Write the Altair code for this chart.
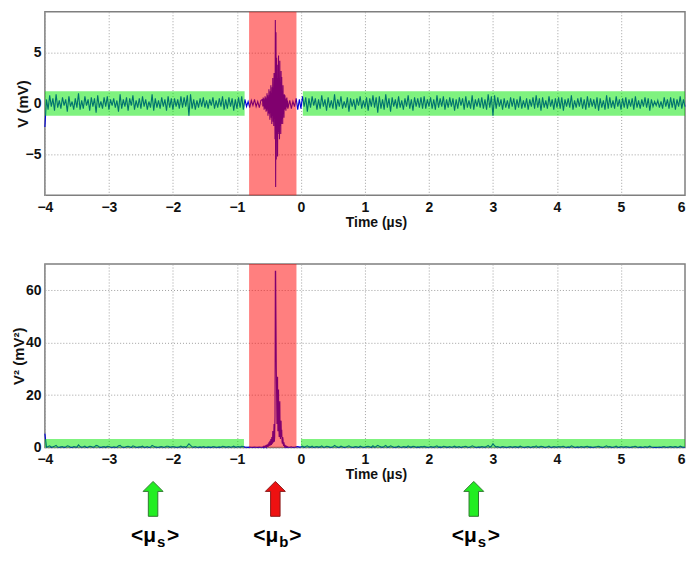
import altair as alt
import numpy as np
import pandas as pd

FONT = "Liberation Sans"

SEG1_START, SEG1_STEP = -4.0, 0.025
BURST_START, BURST_STEP = -0.6, 0.005
SEG3_START, SEG3_STEP = -0.2, 0.025

v_seg1 = [-23, 4, -6, 8, -3, 5, -7, 9, -4, 3,
          -5, 6, -2, 4, -8, 7, -3, 2, -6, 5,
          -4, 10, -6, 3, -5, 7, -2, 4, -7, 6,
          -3, 5, -9, 8, -4, 2, -5, 6, -3, 7,
          -6, 4, -2, 5, -4, 3, -8, 9, -5, 4,
          -3, 6, -7, 5, -2, 8, -6, 3, -4, 5,
          -5, 7, -3, 4, -6, 2, -4, 9, -7, 5,
          -4, 3, -5, 6, -3, 4, -7, 7, -4, 5,
          -6, 5, -3, 4, -5, 7, -4, 6, -3, 8,
          -12, 9, -5, 4, -6, 3, -4, 5, -3, 6,
          -4, 3, -5, 4, -2, 6, -5, 3, -4, 5,
          -3, 7, -6, 4, -5, 6, -3, 5, -7, 4,
          -5, 6, -4, 7, -6, 4, -3, 2, -4, 3,
          -2, 4, -3, 2, -4, 3]

v_burst = [4, -3, 6, -2, 5, -6, 3, -4, 7, -5,
           6, -8, 4, -7, 10, -5, 8, -12, 6, -9,
           14, -10, 8, -16, 12, -9, 18, -14, 10, -20,
           16, -12, 25, -18, 14, -22, 30, -15, 20, -35,
           82, -82, 70, -55, 45, -30, 38, -52, 25, -30,
           47, -28, 20, -35, 42, -22, 18, -30, 32, -20,
           26, -15, 12, -20, 18, -10, 8, -14, 9, -6,
           8, -5, 4, -7, 5, -3, 6, -4, 3, -5]

v_seg3 = [-4, 3, -5, 2, -3, 5, -6, 4, -5, 7,
          -3, 6, -8, 5, -4, 7, -2, 5, -6, 4,
          -5, 8, -3, 4, -7, 6, -4, 3, -5, 9,
          -6, 4, -3, 7, -5, 2, -4, 6, -8, 5,
          -3, 4, -6, 5, -2, 7, -5, 3, -4, 6,
          -7, 5, -3, 8, -4, 6, -9, 7, -5, 4,
          -6, 9, -4, 5, -8, 6, -3, 4, -5, 7,
          -4, 3, -6, 5, -3, 8, -5, 4, -7, 6,
          -3, 5, -4, 6, -5, 7, -5, 4, -3, 6,
          -5, 4, -6, 8, -4, 5, -3, 7, -6, 4,
          -4, 6, -3, 5, -7, 4, -5, 6, -2, 5,
          -6, 7, -4, 3, -5, 8, -6, 4, -3, 5,
          -4, 6, -5, 4, -6, 9, -4, 7, -12, 8,
          -5, 6, -3, 4, -6, 5, -4, 3, -5, 6,
          -3, 5, -6, 4, -4, 7, -5, 3, -4, 5,
          -6, 4, -3, 6, -5, 8, -4, 5, -7, 6,
          -4, 3, -5, 7, -3, 4, -6, 5, -4, 6,
          -5, 6, -7, 4, -3, 5, -4, 8, -6, 3,
          -4, 5, -3, 6, -5, 4, -6, 7, -4, 5,
          -3, 4, -5, 6, -7, 5, -4, 3, -6, 8,
          -5, 6, -4, 3, -5, 7, -3, 4, -6, 5,
          -4, 6, -5, 4, -3, 5, -6, 7, -4, 3,
          -5, 4, -3, 6, -4, 5, -7, 4, -3, 2,
          -2, 3, -4, 2, -5, 6, -3, 4, -5, 6,
          -4, 5, -6, 4, -3, 7, -5, 4, -3]

# ---- axes ticks ----
x_ticks = [-4, -3, -2, -1, 0, 1, 2, 3, 4, 5, 6]
v_ticks = [-5, 0, 5]
v2_ticks = [0, 20, 40, 60]

# ---- shaded windows ----
green_top_x0 = [-4.0, 0.03]
green_top_x1 = [-0.88, 6.0]
green_top_y = [-1.2, 1.2]
green_bot_x0 = [-4.0, 0.0]
green_bot_x1 = [-0.89, 6.0]
green_bot_y = [0.0, 3.2]
red_x = [-0.81, -0.07]

# ---- annotations below the lower panel ----
ann_x = [-2.31, -0.40, 2.70]
ann_sub = ["s", "b", "s"]
ann_fill = ["#22ee22", "#ee1111", "#22ee22"]
ann_stroke = ["#2f7a2f", "#8a1a1a", "#2f7a2f"]
ann_arrow_y = -19.6
ann_text_y = -36.1

# ---- build tables ----
t = np.concatenate([
    SEG1_START + SEG1_STEP * np.arange(len(v_seg1)),
    BURST_START + BURST_STEP * np.arange(len(v_burst)),
    SEG3_START + SEG3_STEP * np.arange(len(v_seg3)),
])
v = np.array(v_seg1 + v_burst + v_seg3, dtype=float) / 10.0
sig = pd.DataFrame({"t": np.round(t, 4), "v": v, "v2": v ** 2})

g_top = pd.DataFrame({"x0": green_top_x0, "x1": green_top_x1,
                      "y0": [green_top_y[0]] * 2, "y1": [green_top_y[1]] * 2})
g_bot = pd.DataFrame({"x0": green_bot_x0, "x1": green_bot_x1,
                      "y0": [green_bot_y[0]] * 2, "y1": [green_bot_y[1]] * 2})
r_top = pd.DataFrame({"x0": [red_x[0]], "x1": [red_x[1]], "y0": [-9], "y1": [9]})
r_bot = pd.DataFrame({"x0": [red_x[0]], "x1": [red_x[1]], "y0": [0], "y1": [70]})
ann = pd.DataFrame({"ax": ann_x, "sub": ann_sub, "fill": ann_fill, "stroke": ann_stroke,
                    "ay": [ann_arrow_y] * 3, "ty": [ann_text_y] * 3})

W, H = 642, 184
xs = alt.Scale(domain=[-4, 6], nice=False, zero=False)
ys_top = alt.Scale(domain=[-9, 9], nice=False, zero=False)
ys_bot = alt.Scale(domain=[0, 70], nice=False, zero=False)

common = dict(grid=True, gridColor="#a0a0a0", gridDash=[1, 2], gridWidth=1,
              ticks=False, domain=False, labelFont=FONT, labelFontSize=14,
              labelFontWeight="bold", labelColor="#111111", titleFont=FONT,
              titleFontWeight="bold", titleColor="#111111", labelOverlap=False)

x_axis = alt.Axis(values=x_ticks, title="Time (µs)", format="d", labelPadding=5,
                  titleFontSize=14, titlePadding=1, titleX=332, labelFlush=False,
                  labelAlign={"condition": {"test": "datum.value >= 6", "value": "right"},
                              "value": "center"},
                  **common)


def y_axis(vals, title, tx):
    return alt.Axis(values=vals, title=title, format="d", labelPadding=4,
                    titleFontSize=15, titleAngle=270, titleX=tx, titleY=H / 2,
                    titleAlign="center", titleBaseline="middle", **common)


def panel(ycol, ys, yax, greens, reds):
    line = alt.Chart(sig).mark_line(color="#0000dd", strokeWidth=1.1).encode(
        x=alt.X("t:Q", scale=xs, axis=x_axis),
        y=alt.Y(f"{ycol}:Q", scale=ys, axis=yax),
    )
    g = alt.Chart(greens).mark_rect(color="#00e600", opacity=0.5).encode(
        x=alt.X("x0:Q", scale=xs, axis=x_axis), x2="x1",
        y=alt.Y("y0:Q", scale=ys, axis=yax), y2="y1",
    )
    r = alt.Chart(reds).mark_rect(color="#ff0000", opacity=0.5).encode(
        x=alt.X("x0:Q", scale=xs, axis=x_axis), x2="x1",
        y=alt.Y("y0:Q", scale=ys, axis=yax), y2="y1",
    )
    return [line, g, r]


yax_top = y_axis(v_ticks, "V (mV)", -22)
yax_bot = y_axis(v2_ticks, "V² (mV²)", -26)

top = alt.layer(*panel("v", ys_top, yax_top, g_top, r_top)).properties(width=W, height=H)

ARROW = "M0,-1 L0.571,-0.429 L0.271,-0.429 L0.271,1 L-0.271,1 L-0.271,-0.429 L-0.571,-0.429 Z"
ax_enc = dict(x=alt.X("ax:Q", scale=xs, axis=x_axis))
arrows = alt.Chart(ann).mark_point(shape=ARROW, size=1225, filled=True, strokeWidth=1,
                                   opacity=1).encode(
    y=alt.Y("ay:Q", scale=ys_bot, axis=yax_bot),
    fill=alt.Fill("fill:N", scale=None),
    stroke=alt.Stroke("stroke:N", scale=None),
    **ax_enc,
)
txt_kw = dict(font=FONT, fontWeight="bold", color="#000000", baseline="alphabetic")
t_main = alt.Chart(ann).mark_text(text="<μ", fontSize=21, align="right", dx=3, **txt_kw).encode(
    y=alt.Y("ty:Q", scale=ys_bot, axis=yax_bot), **ax_enc)
t_sub = alt.Chart(ann).mark_text(fontSize=15, align="left", dx=4, dy=5, **txt_kw).encode(
    y=alt.Y("ty:Q", scale=ys_bot, axis=yax_bot), text="sub:N", **ax_enc)
t_close = alt.Chart(ann).mark_text(text=">", fontSize=21, align="left", dx=14, **txt_kw).encode(
    y=alt.Y("ty:Q", scale=ys_bot, axis=yax_bot), **ax_enc)

bottom = alt.layer(*panel("v2", ys_bot, yax_bot, g_bot, r_bot),
                   arrows, t_main, t_sub, t_close).properties(width=W, height=H)

chart = alt.vconcat(top, bottom, spacing=33).properties(
    padding={"left": 3, "top": 2, "right": 0, "bottom": 0},
    background="white",
).configure_view(stroke="#7f7f7f", strokeWidth=1.5)

chart.save("out.html", embed_options={"renderer": "svg", "actions": False})
